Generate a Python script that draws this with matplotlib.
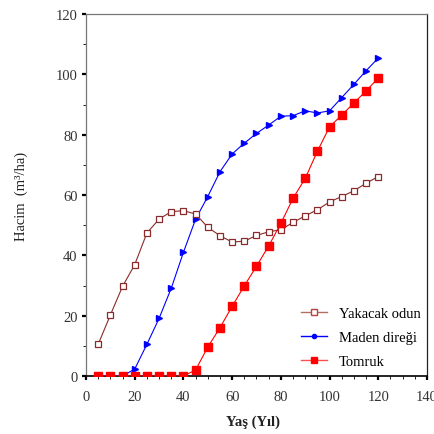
import matplotlib
matplotlib.use("Agg")
import matplotlib.pyplot as plt
from matplotlib.lines import Line2D
from matplotlib.ticker import MultipleLocator

ages = [5, 10, 15, 20, 25, 30, 35, 40, 45, 50, 55, 60, 65, 70, 75, 80,
        85, 90, 95, 100, 105, 110, 115, 120]
yakacak = [10.5, 20.2, 29.7, 36.9, 47.4, 52.0, 54.5, 54.8, 53.7, 49.3, 46.5, 44.4,
           44.7, 46.6, 47.8, 48.5, 50.9, 53.1, 55.1, 57.7, 59.5, 61.4, 63.9, 66.1]
maden = [0, 0, 0, 2.3, 10.5, 19.1, 29.1, 41.0, 52.0, 59.5, 67.7, 73.6,
         77.2, 80.4, 83.2, 86.1, 86.3, 87.9, 87.2, 87.9, 92.3, 96.7, 101.2, 105.4]
tomruk = [0, 0, 0, 0, 0, 0, 0, 0, 2.0, 9.6, 16.0, 23.1,
          29.9, 36.4, 43.1, 50.6, 58.9, 65.5, 74.5, 82.6, 86.5, 90.5, 94.5, 98.8]
labels = ["Yakacak odun", "Maden direği", "Tomruk"]

plt.rcParams['font.family'] = ['Liberation Serif', 'DejaVu Serif']

fig = plt.figure(figsize=(4.35, 4.35), dpi=100)
ax = fig.add_axes([86/435, 1-377/435, 341/435, 362/435])

c_y = '#8b2a2a'
c_m = '#0000ff'
c_t = '#ff0000'

ax.plot(ages, maden, color=c_m, lw=0.8, marker='>', ms=4.5, mec=c_m, mfc=c_m, zorder=3)
ax.plot(ages, yakacak, color=c_y, lw=0.8, marker='s', ms=4.5, mec=c_y, mfc='white', mew=0.9, zorder=4)
ax.plot(ages, tomruk, color=c_t, lw=0.8, marker='s', ms=6, mec=c_t, mfc=c_t, zorder=5)

ax.set_xlim(0, 140)
ax.set_ylim(0, 120)
ax.xaxis.set_major_locator(MultipleLocator(20))
ax.xaxis.set_minor_locator(MultipleLocator(5))
ax.yaxis.set_major_locator(MultipleLocator(20))
ax.yaxis.set_minor_locator(MultipleLocator(10))
ax.tick_params(which='major', direction='out', length=3, width=1.6, colors='black',
               labelsize=10.5, labelcolor='#333333')
ax.tick_params(which='minor', direction='out', length=2, width=0.6, colors='black')
ax.tick_params(axis='x', pad=7)
ax.tick_params(axis='y', pad=3)

for s in ['left', 'top']:
    ax.spines[s].set_color('#777777')
ax.spines['right'].set_color('#222222')
ax.spines['bottom'].set_color('black')
ax.spines['bottom'].set_linewidth(1.2)
for s in ['left', 'top', 'right']:
    ax.spines[s].set_linewidth(0.9)

ax.set_xlabel("Yaş (Yıl)", fontsize=10.5, fontweight='bold', color='#222222')
ax.set_ylabel("Hacim  (m³/ha)", fontsize=10.5, color='#222222')
ax.xaxis.set_label_coords(0.49, -0.107)
ax.yaxis.set_label_coords(-0.17, 0.5)

handles = [
    Line2D([], [], color='#b07060', lw=1, marker='s', ms=5, mfc='white', mec='#c04040'),
    Line2D([], [], color=c_m, lw=1, marker='o', ms=3, mfc=c_m, mec=c_m),
    Line2D([], [], color='#ff5050', lw=1, marker='s', ms=5, mfc=c_t, mec=c_t),
]
ax.legend(handles, labels, loc='lower right', bbox_to_anchor=(1.02, -0.015), frameon=False,
          fontsize=10.5, handlelength=1.8, labelspacing=0.75, handletextpad=0.8)

fig.savefig("out.png", dpi=100)
